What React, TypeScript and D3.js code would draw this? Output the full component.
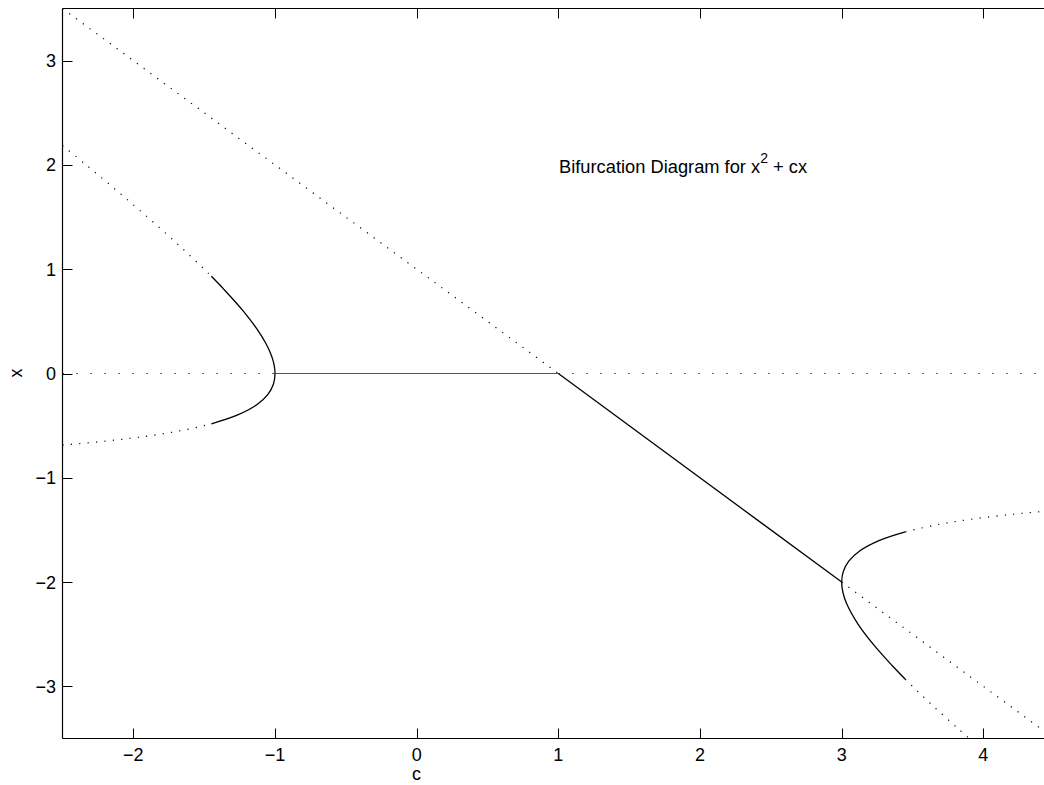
import React from "react";
import * as d3 from "d3";

// Tick values
const xTicks = [-2, -1, 0, 1, 2, 3, 4];
const yTicks = [-3, -2, -1, 0, 1, 2, 3];

// Branches as [c, x] points
const zeroUnstableLeft: [number, number][] = [[-2.5, 0], [-1, 0]];
const zeroStable: [number, number][] = [[-1, 0], [1, 0]];
const zeroUnstableRight: [number, number][] = [[1, 0], [4.5, 0]];

const diagUnstableLeft: [number, number][] = [[-2.5, 3.5], [1, 0]];
const diagStable: [number, number][] = [[1, 0], [3, -2]];
const diagUnstableRight: [number, number][] = [[3, -2], [4.5, -3.5]];

const p2LeftStable: [number, number][] = [
  [-1.449, 0.932], [-1.356, 0.8], [-1.225, 0.6], [-1.114, 0.4], [-1.069, 0.3],
  [-1.033, 0.2], [-1.009, 0.1], [-1.0, 0.0], [-1.011, -0.1], [-1.05, -0.2],
  [-1.129, -0.3], [-1.267, -0.4], [-1.449, -0.482],
];
const p2LeftUnstableUpper: [number, number][] = [
  [-2.5, 2.186], [-2.333, 2.0], [-2.157, 1.8], [-1.985, 1.6], [-1.817, 1.4],
  [-1.655, 1.2], [-1.5, 1.0], [-1.449, 0.932],
];
const p2LeftUnstableLower: [number, number][] = [
  [-2.5, -0.686], [-2.207, -0.65], [-2.012, -0.62], [-1.9, -0.6], [-1.672, -0.55],
  [-1.5, -0.5], [-1.449, -0.482],
];
const p2RightStable: [number, number][] = [
  [3.449, -1.518], [3.267, -1.6], [3.129, -1.7], [3.05, -1.8], [3.011, -1.9],
  [3.0, -2.0], [3.009, -2.1], [3.033, -2.2], [3.114, -2.4], [3.225, -2.6],
  [3.356, -2.8], [3.449, -2.932],
];
const p2RightUnstableUpper: [number, number][] = [
  [3.449, -1.518], [3.672, -1.45], [3.9, -1.4], [4.207, -1.35], [4.445, -1.32], [4.633, -1.3],
];
const p2RightUnstableLower: [number, number][] = [
  [3.449, -2.932], [3.5, -3.0], [3.655, -3.2], [3.817, -3.4], [3.9, -3.5],
];

const W = 1044;
const H = 785;
const FONT = "'Liberation Sans', Arial, Helvetica, sans-serif";

export default function App() {
  const left = 62.5;
  const unitX = 141.67;
  const x = d3.scaleLinear().domain([-2.5, 4.5]).range([left, left + 7 * unitX]);
  const y = d3.scaleLinear().domain([-3.5, 3.5]).range([738.5, 8.5]);
  const [x0, x1] = x.range();
  const [yb, yt] = y.range();

  const straight = d3.line<[number, number]>().x((d) => x(d[0])).y((d) => y(d[1]));
  const smooth = d3
    .line<[number, number]>()
    .x((d) => x(d[0]))
    .y((d) => y(d[1]))
    .curve(d3.curveCatmullRom.alpha(0.5));

  const dotted = { fill: "none", stroke: "#000", strokeWidth: 1.2, strokeDasharray: "1.2 7.2" };
  const dottedH = { fill: "none", stroke: "#000", strokeWidth: 1.2, strokeDasharray: "1.2 12.8" };
  const solid = { fill: "none", stroke: "#000", strokeWidth: 1.3 };

  return (
    <svg
      width={W}
      height={H}
      style={{ position: "absolute", left: 0, top: 0, background: "#fff" }}
      fontFamily={FONT}
    >
      <rect x={0} y={0} width={W} height={H} fill="#fff" />
      <defs>
        <clipPath id="plot">
          <rect x={x0} y={yt} width={x1 - x0} height={yb - yt} />
        </clipPath>
      </defs>

      <g clipPath="url(#plot)">
        <path d={straight(zeroUnstableLeft) || ""} {...dottedH} />
        <path d={straight(zeroUnstableRight) || ""} {...dottedH} />
        <path d={straight(zeroStable) || ""} fill="none" stroke="#555" strokeWidth={1} />
        <path d={straight(diagUnstableLeft) || ""} {...dotted} />
        <path d={straight(diagUnstableRight) || ""} {...dotted} />
        <path d={straight(diagStable) || ""} {...solid} />
        <path d={smooth(p2LeftUnstableUpper) || ""} {...dotted} />
        <path d={smooth(p2LeftUnstableLower) || ""} {...dotted} />
        <path d={smooth(p2RightUnstableUpper) || ""} {...dotted} />
        <path d={smooth(p2RightUnstableLower) || ""} {...dotted} />
        <path d={smooth(p2LeftStable) || ""} {...solid} />
        <path d={smooth(p2RightStable) || ""} {...solid} />
      </g>

      {/* axes box */}
      <line x1={x0} x2={W + 20} y1={yt} y2={yt} stroke="#000" strokeWidth={1.2} />
      <line x1={x0} x2={W + 20} y1={yb} y2={yb} stroke="#000" strokeWidth={1.2} />
      <line x1={x0} x2={x0} y1={yt} y2={yb} stroke="#000" strokeWidth={1.2} />

      {xTicks.map((t) => (
        <g key={"xt" + t}>
          <line x1={Math.round(x(t)) + 0.5} x2={Math.round(x(t)) + 0.5} y1={yb} y2={yb - 10} stroke="#000" />
          <line x1={Math.round(x(t)) + 0.5} x2={Math.round(x(t)) + 0.5} y1={yt} y2={yt + 10} stroke="#000" />
          <text x={x(t)} y={761} fontSize={18} textAnchor="middle" fill="#000">
            {t < 0 ? "\u2212" + Math.abs(t) : String(t)}
          </text>
        </g>
      ))}
      {yTicks.map((t) => (
        <g key={"yt" + t}>
          <line x1={x0} x2={x0 + 10} y1={Math.round(y(t)) + 0.5} y2={Math.round(y(t)) + 0.5} stroke="#000" />
          <text x={56} y={y(t) + 6.5} fontSize={18} textAnchor="end" fill="#000">
            {t < 0 ? "\u2212" + Math.abs(t) : String(t)}
          </text>
        </g>
      ))}

      <text x={416.5} y={780} fontSize={18} textAnchor="middle" fill="#000">c</text>
      <text x={0} y={0} fontSize={18} textAnchor="middle" fill="#000" transform="translate(22,373) rotate(-90)">x</text>

      <text x={559} y={173} fontSize={18.3} fill="#000">
        Bifurcation Diagram for x
        <tspan fontSize={14} dy={-10}>2</tspan>
        <tspan dy={10}> + cx</tspan>
      </text>
    </svg>
  );
}
